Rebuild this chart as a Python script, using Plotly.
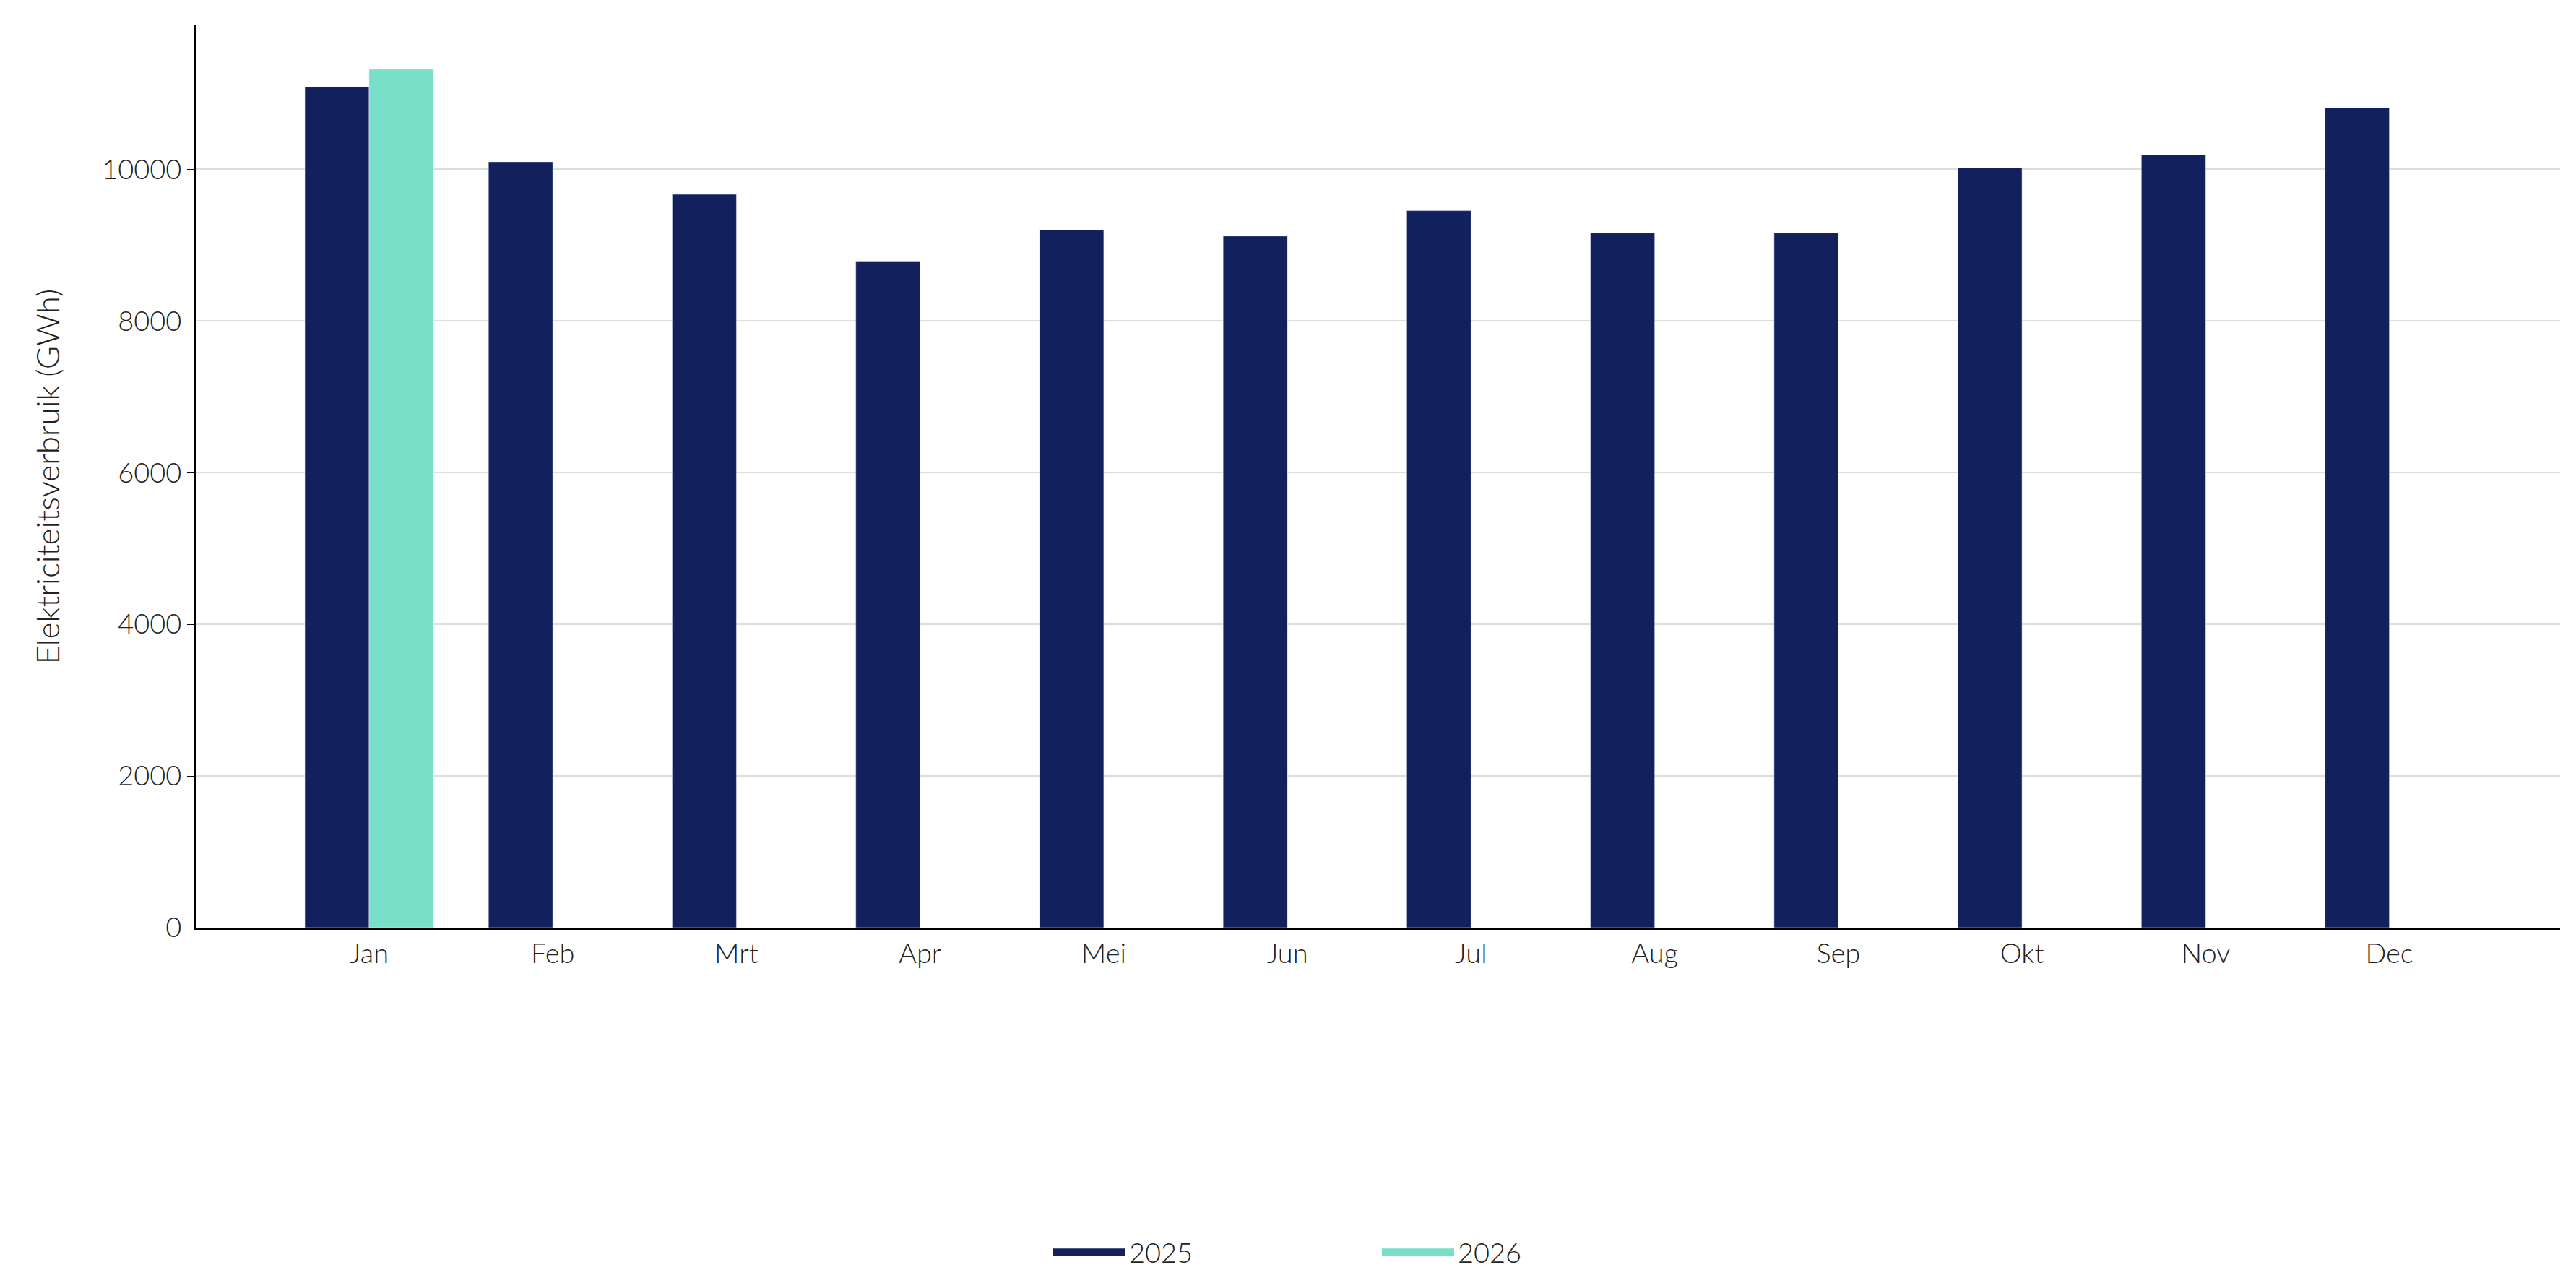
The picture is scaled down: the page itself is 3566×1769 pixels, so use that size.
import plotly.graph_objects as go

months = ["Jan", "Feb", "Mrt", "Apr", "Mei", "Jun", "Jul", "Aug", "Sep", "Okt", "Nov", "Dec"]
verbruik_2025 = [11090, 10100, 9670, 8790, 9200, 9120, 9455, 9160, 9160, 10020, 10190, 10815]
verbruik_2026 = [11320]

kleur_2025 = "#13205E"
kleur_2026 = "#7ADFC8"
font_family = "Lato"

fig = go.Figure()
fig.add_trace(go.Bar(x=months, y=verbruik_2025, name="2025", marker_color=kleur_2025,
                     offset=-0.35, width=0.35, showlegend=False))
fig.add_trace(go.Bar(x=months[:1], y=verbruik_2026, name="2026", marker_color=kleur_2026,
                     offset=0, width=0.35, showlegend=False))
# legend entries as wide rectangles
for naam, kleur in [("2025", kleur_2025), ("2026", kleur_2026)]:
    fig.add_trace(go.Scatter(x=[None], y=[None], mode="lines", name=naam,
                             line=dict(color=kleur, width=36)))

fig.update_layout(
    width=3566, height=1769,
    paper_bgcolor="white", plot_bgcolor="white",
    margin=dict(l=264, r=30, t=27, b=302),
    font=dict(family=font_family, size=38, color="#222222", weight=300),
    barmode="group",
    legend=dict(orientation="h", x=0.5, xanchor="center", y=-0.36, yanchor="middle",
                font=dict(size=38, weight=300), itemwidth=100, entrywidth=340),
)
fig.update_xaxes(range=[-0.94, 11.93], showline=True, linecolor="black", linewidth=3,
                 ticks="", showgrid=False, tickfont=dict(size=38, weight=300))
fig.update_yaxes(range=[0, 11900], showline=True, linecolor="black", linewidth=3,
                 showgrid=True, gridcolor="#dddddd", gridwidth=2, dtick=2000,
                 tickformat="d", zeroline=False, ticks="outside", ticklen=10, tickcolor="black",
                 title=dict(text="Elektriciteitsverbruik (GWh)", font=dict(size=44, weight=300), standoff=45),
                 tickfont=dict(size=38, weight=300))

fig.write_html("out.html")
